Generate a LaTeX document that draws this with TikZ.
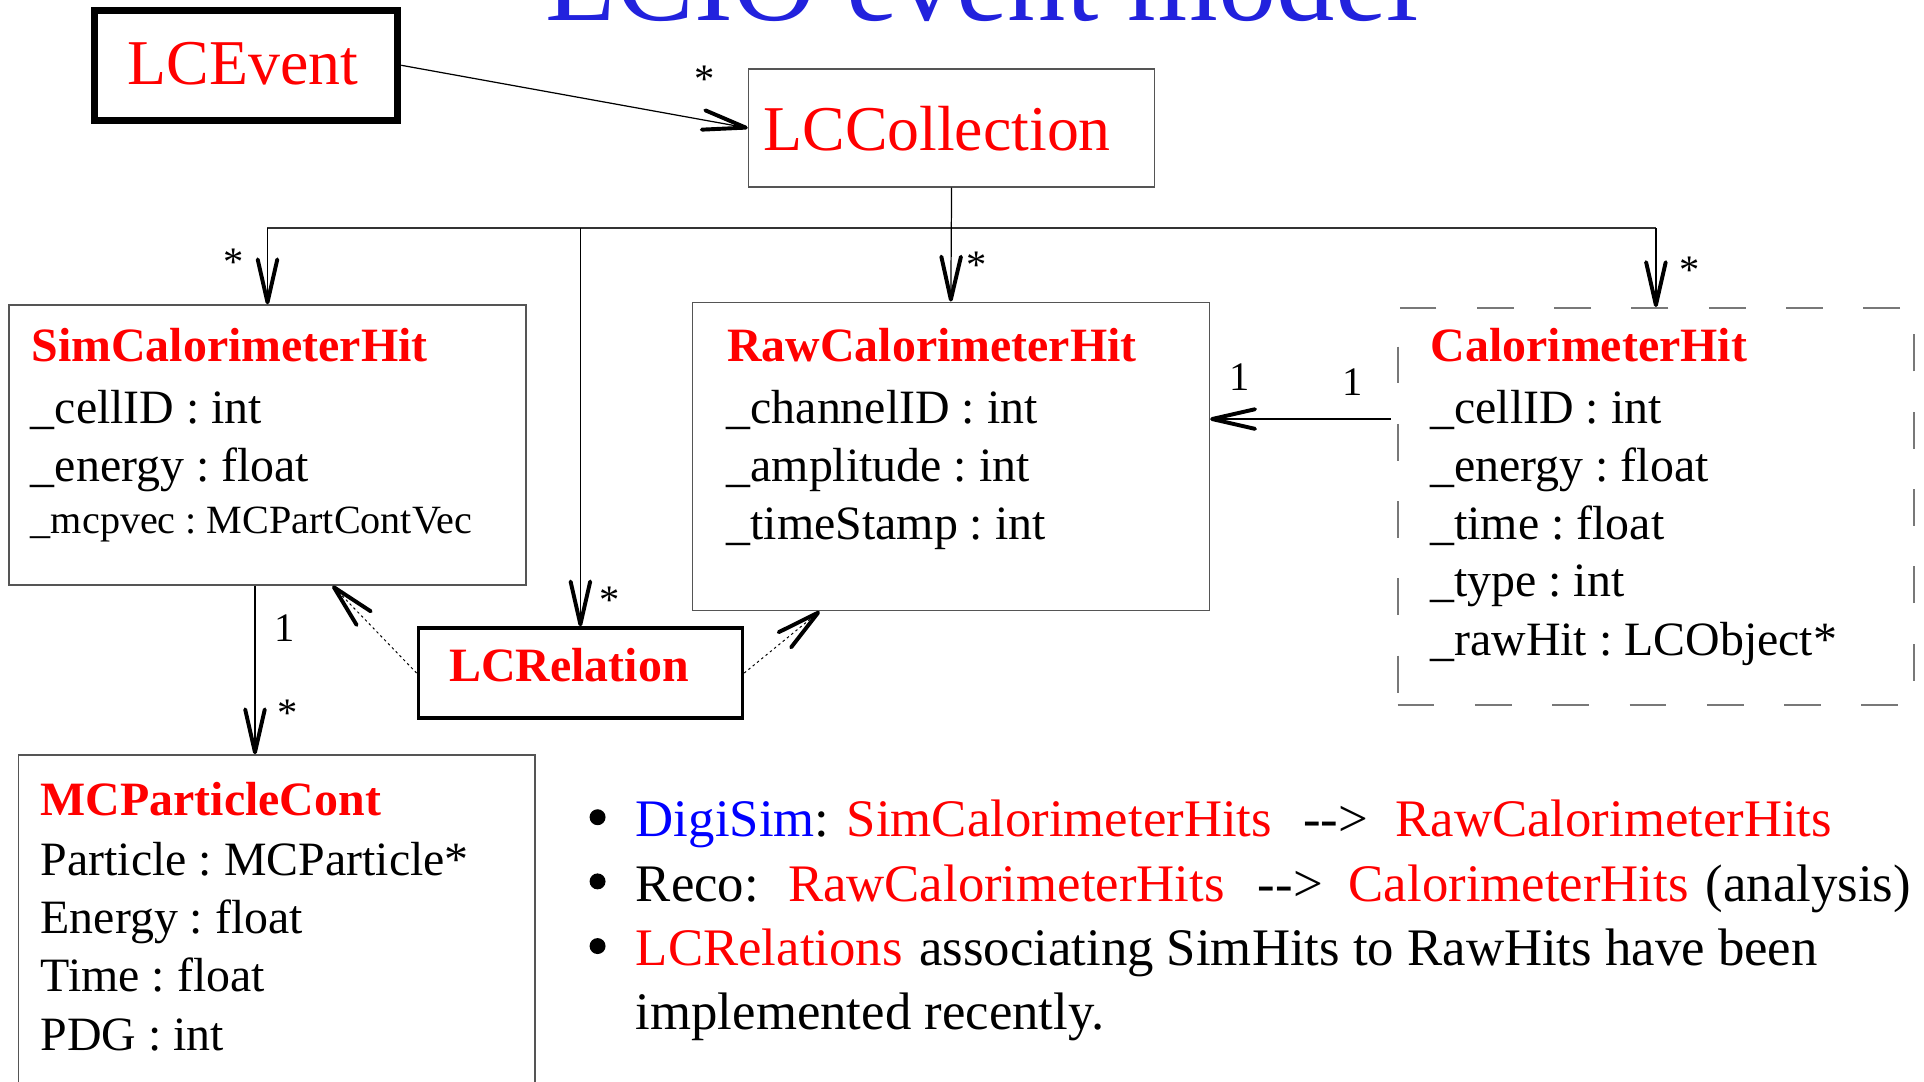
\documentclass[tikz,border=0pt]{standalone}
\usepackage{fontspec}
\setmainfont{Liberation Serif}
\usetikzlibrary{arrows.meta}
\definecolor{titleblue}{RGB}{34,34,221}
\definecolor{boxgray}{RGB}{85,85,85}
\definecolor{dashgray}{RGB}{120,120,120}
\definecolor{linkblue}{RGB}{0,0,255}

\begin{document}
\frenchspacing
\begin{tikzpicture}[x=1pt,y=-1pt,
  arr/.style={-{Straight Barb[length=35pt,width=16pt,line width=3.2pt,round]}, line width=1pt},
  rel/.style={arr, dash pattern=on 2pt off 2.5pt, line width=0.8pt},
  umlbox/.style={draw=boxgray, line width=1.2pt, inner sep=0pt},
  heavybox/.style={draw=black, inner sep=0pt},
  lbl/.style={anchor=base west, inner sep=0pt},
  big/.style={lbl, font=\fontsize{52}{60}\selectfont, text=red},
  cls/.style={lbl, font=\fontsize{39}{47}\selectfont\bfseries, text=red},
  attr/.style={lbl, font=\fontsize{39}{47}\selectfont},
  mult/.style={anchor=base, inner sep=0pt, font=\fontsize{33}{40}\selectfont},
  bul/.style={lbl, font=\fontsize{43}{52}\selectfont},
  dot/.style={fill=black, draw=none}
]
\clip (0,0) rectangle (1568,881);

% heading (runs off the top edge)
\node[lbl, font=\fontsize{95}{110}\selectfont, text=titleblue] (title) at (444,16.5) {LCIO event model};

% class boxes
\node[heavybox, line width=6pt, minimum width=247pt, minimum height=89.6pt] (event) at (200.5,53.2) {};
\node[umlbox, minimum width=331pt, minimum height=96.2pt] (coll) at (775.5,104.3) {};
\node[umlbox, minimum width=421.3pt, minimum height=228.2pt] (sim) at (218,362.7) {};
\node[umlbox, minimum width=421.4pt, minimum height=251.3pt] (raw) at (774.9,372) {};
\node[draw=dashgray, line width=1.5pt, dash pattern=on 30pt off 33pt, inner sep=0pt,
      minimum width=421pt, minimum height=323.6pt] (calo) at (1349.5,412.8) {};
\node[heavybox, line width=3pt, minimum width=264pt, minimum height=73pt] (relbox) at (473,548.5) {};
\node[umlbox, minimum width=421pt, minimum height=344.6pt] (mc) at (225.5,787.6) {};

% box contents
\node[big] (eventname) at (104,69) {LCEvent};
\node[big] (collname) at (622,122.5) {LCCollection};

\node[cls]  (simname) at (25.5,294.8) {SimCalorimeterHit};
\node[attr] (sim1) at (25,345) {\_cellID : int};
\node[attr] (sim2) at (25,392.6) {\_energy : float};
\node[lbl, font=\fontsize{32.7}{40}\selectfont] (sim3) at (25,434.7) {\_mcpvec : MCPartContVec};

\node[cls]  (rawname) at (592.5,294.8) {RawCalorimeterHit};
\node[attr] (raw1) at (592,345) {\_channelID : int};
\node[attr] (raw2) at (592,392) {\_amplitude : int};
\node[attr] (raw3) at (592,439.6) {\_timeStamp : int};

\node[cls]  (caloname) at (1165.8,294.8) {CalorimeterHit};
\node[attr] (calo1) at (1165.5,345) {\_cellID : int};
\node[attr] (calo2) at (1165.5,392) {\_energy : float};
\node[attr] (calo3) at (1165.5,439.6) {\_time : float};
\node[attr] (calo4) at (1165.5,486.3) {\_type : int};
\node[attr] (calo5) at (1165.5,533.8) {\_rawHit : LCObject*};

\node[cls] (relname) at (366,555.6) {LCRelation};

\node[cls]  (mcname) at (33,664.2) {MCParticleCont};
\node[attr] (mc1) at (33,713.1) {Particle : MCParticle*};
\node[attr] (mc2) at (33,760.7) {Energy : float};
\node[attr] (mc3) at (33,808.2) {Time : float};
\node[attr] (mc4) at (33,855.8) {PDG : int};

% connectors
\coordinate (bus) at (776,186);
\coordinate (relsimx) at (271,0);
\coordinate (rawrelx) at (668,0);
\coordinate (simmcx) at (207.8,0);
\coordinate (hitlink) at (0,341.5);

\draw[arr] (event.east) -- (coll.west);
\draw[line width=1pt] (coll.south) -- (coll.south |- bus);
\draw[line width=1.2pt, black!80] (sim.north |- bus) -- (calo.north |- bus);
\draw[arr] (sim.north |- bus) -- (sim.north);
\draw[arr] (relbox.north |- bus) -- (relbox.north);
\draw[arr] (coll.south) -- (raw.north);
\draw[arr] (calo.north |- bus) -- (calo.north);
\draw[arr] ([xshift=-5pt]calo.west |- hitlink) -- (raw.east |- hitlink);
\draw[arr] (sim.south -| simmcx) -- (mc.north -| simmcx);
\draw[rel] (relbox.west) -- (sim.south -| relsimx);
\draw[rel] (relbox.east) -- (raw.south -| rawrelx);

% multiplicities
\node[mult] (m1) at (574.5,75) {*};
\node[mult] (m2) at (190,224.5) {*};
\node[mult] (m3) at (796,227) {*};
\node[mult] (m4) at (1377,231) {*};
\node[mult] (m5) at (497,500) {*};
\node[mult] (m6) at (234,592) {*};
\node[mult] (n1) at (1010,318) {1};
\node[mult] (n2) at (1102,322) {1};
\node[mult] (n3) at (232,523) {1};

% notes
\fill[dot] (487,666) circle (6.5pt);
\fill[dot] (487,718.3) circle (6.5pt);
\fill[dot] (487,771) circle (6.5pt);

\node[bul] (b1a) at (518,681.9) {\textcolor{linkblue}{DigiSim}:};
\node[bul, text=red] (b1b) at (690,681.9) {SimCalorimeterHits};
\node[bul] (b1c) at (1062,681.9) {-\kern0pt-\kern0pt>};
\node[bul, text=red] (b1d) at (1137,681.9) {RawCalorimeterHits};

\node[bul] (b2a) at (518,734.3) {Reco:};
\node[bul, text=red] (b2b) at (642,734.3) {RawCalorimeterHits};
\node[bul] (b2c) at (1025,734.3) {-\kern0pt-\kern0pt>};
\node[bul, text=red] (b2d) at (1099,734.3) {CalorimeterHits};
\node[bul] (b2e) at (1390,734.3) {(analysis)};

\node[bul, text=red] (b3a) at (518,787) {LCRelations};
\node[bul] (b3b) at (749,787) {associating SimHits to RawHits have been};

\node[bul] (b4a) at (518,839.4) {implemented recently.};
\end{tikzpicture}
\end{document}
